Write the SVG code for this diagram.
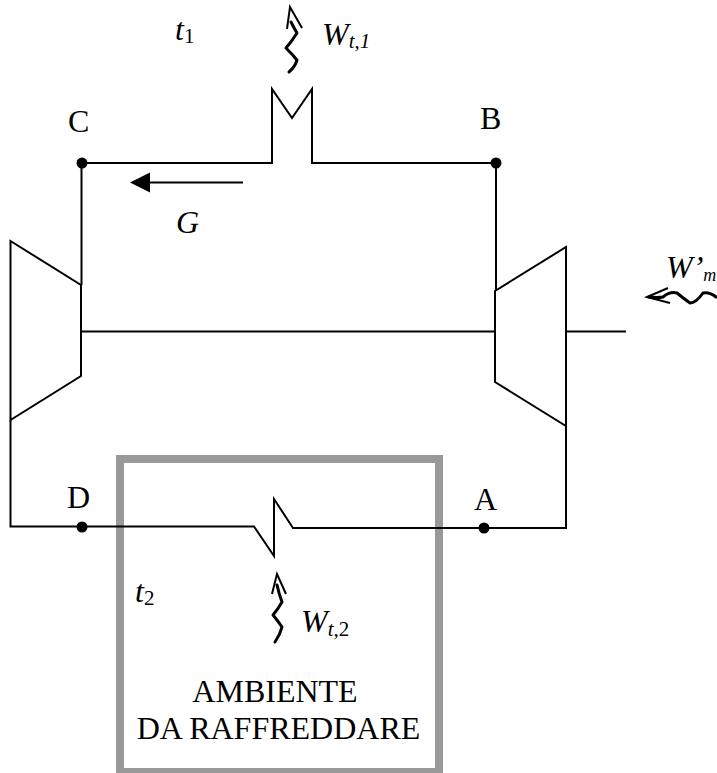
<svg xmlns="http://www.w3.org/2000/svg" width="717" height="773" viewBox="0 0 717 773">
<style>
.l{fill:none;stroke:#000;stroke-width:2;stroke-linejoin:miter}
.w{fill:none;stroke:#000;stroke-width:3;stroke-linejoin:round;stroke-linecap:round}
.h{fill:none;stroke:#000;stroke-width:2;stroke-linejoin:miter}
.t{font-family:"Liberation Serif","Times New Roman",serif;font-size:32px;fill:#000}
.i{font-style:italic}
.s{font-size:21px}
.d{fill:#000}
</style>
<rect width="717" height="773" fill="#fff"/>
<g id="ambiente">
<rect x="120" y="459" width="319" height="313" fill="none" stroke="#999" stroke-width="8"/>
<text class="t" x="275" y="702" text-anchor="middle">AMBIENTE</text>
<text class="t" x="278.500" y="739" text-anchor="middle">DA RAFFREDDARE</text>
<text class="t i" x="135" y="602">t<tspan class="s" font-style="normal" dy="3">2</tspan></text>
</g>
<g id="connectors">
<path class="l" d="M82 163H272V89L292 118L312 89V163H496V291"/>
<path class="l" d="M81.500 163V285"/>
<path class="l" d="M81 331.500H495"/>
<path class="l" d="M566 331.500H626"/>
<path class="l" d="M10.500 420V526.500H254L274 556V499L293 528H566V426"/>
<path class="l" d="M243 182.500H148"/>
<path class="d" d="M130 182.500L150 172.500V192.500Z"/>
</g>
<g id="compressor-left"><path class="l" d="M10.500 241L81 285V376L10.500 420Z"/></g>
<g id="turbine-right"><path class="l" d="M495 291L566 247V426L495 382Z"/></g>
<g id="point-C"><circle class="d" cx="82" cy="163" r="5.500"/><text class="t" x="68" y="132">C</text></g>
<g id="point-B"><circle class="d" cx="496" cy="163" r="5.500"/><text class="t" x="480" y="129">B</text></g>
<g id="point-D"><circle class="d" cx="82" cy="527" r="5.500"/><text class="t" x="67" y="508">D</text></g>
<g id="point-A"><circle class="d" cx="484" cy="528" r="5.500"/><text class="t" x="474" y="510">A</text></g>
<g id="label-G"><text class="t i" x="176" y="233">G</text></g>
<g id="label-t1"><text class="t i" x="175" y="40">t<tspan class="s" font-style="normal" dy="3">1</tspan></text></g>
<g id="heat-1">
<path class="h" d="M287 29L290 7L302 28"/>
<path class="w" d="M291 22Q294 28 297 33Q292 41 286 48Q292 54 297 60Q295 67 289 72"/>
<text class="t i" x="322" y="45">W<tspan class="s" dy="3">t,1</tspan></text>
</g>
<g id="heat-2">
<path class="h" d="M272 594L277 574L286 594"/>
<path class="w" d="M277 585Q279 594 282 602Q278 609 273 615Q278 621 282 627Q280 635 275 642"/>
<text class="t i" x="301" y="632">W<tspan class="s" dy="4">t,</tspan><tspan class="s" font-style="normal">2</tspan></text>
</g>
<g id="work">
<path class="h" d="M668 288L647 297L670 303"/>
<path class="w" d="M649 297Q657 298 663 297Q670 291 677 293Q683 298 690 303Q696 303 703 293Q710 292 716 297"/>
<text class="t i" x="666" y="278">W’<tspan font-size="18" dy="3">m</tspan></text>
</g>
</svg>
